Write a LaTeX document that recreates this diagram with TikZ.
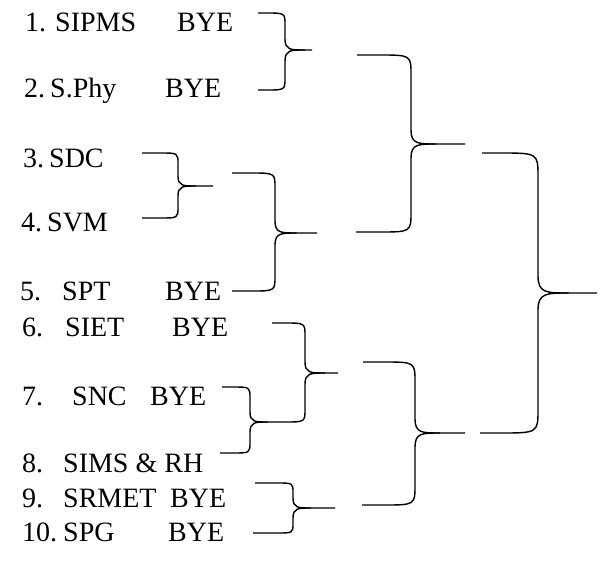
\documentclass[tikz,border=0pt]{standalone}
\usepackage{fontspec}
\setmainfont{Liberation Serif}
\usetikzlibrary{calc}
\tikzset{
  lbl/.style={anchor=west,inner sep=0pt,text height=18.5pt,text depth=0pt,font=\fontsize{28}{32}\selectfont},
  bline/.style={line width=1.4pt}
}
\begin{document}
\begin{tikzpicture}[x=1pt,y=-1pt]
\useasboundingbox (0,0) rectangle (604,563);
% teams
\node[lbl] (n1) at (25,22) {1.};  \node[lbl] (t1) at (55,22) {SIPMS};  \node[lbl] (y1) at (177,22) {BYE};
\node[lbl] (n2) at (24,88) {2.};  \node[lbl] (t2) at (50,88) {S.Phy};  \node[lbl] (y2) at (165,88) {BYE};
\node[lbl] (n3) at (23,158) {3.}; \node[lbl] (t3) at (49,158) {SDC};
\node[lbl] (n4) at (21,222) {4.}; \node[lbl] (t4) at (47,222) {SVM};
\node[lbl] (n5) at (20,291) {5.}; \node[lbl] (t5) at (62,291) {SPT};   \node[lbl] (y5) at (165,291) {BYE};
\node[lbl] (n6) at (22,327) {6.}; \node[lbl] (t6) at (65,327) {SIET};  \node[lbl] (y6) at (172,327) {BYE};
\node[lbl] (n7) at (22,396) {7.}; \node[lbl] (t7) at (72,396) {SNC};   \node[lbl] (y7) at (150,396) {BYE};
\node[lbl] (n8) at (22,463) {8.}; \node[lbl] (t8) at (63,463) {SIMS \& RH};
\node[lbl] (n9) at (22,498) {9.}; \node[lbl] (t9) at (63,498) {SRMET}; \node[lbl] (y9) at (170,498) {BYE};
\node[lbl] (n10) at (22,532) {10.}; \node[lbl] (t10) at (63,532) {SPG}; \node[lbl] (y10) at (168,532) {BYE};
% bracket ends: T top, B bottom, V bend at the tip, M tip
\coordinate (aT) at (258,13);  \coordinate (aB) at (258,90);  \coordinate (aV) at (285,50);  \coordinate (aM) at (312,50);
\coordinate (bT) at (142,153); \coordinate (bB) at (142,218); \coordinate (bV) at (178,186); \coordinate (bM) at (213,186);
\coordinate (cT) at (232,173); \coordinate (cB) at (232,291); \coordinate (cV) at (275,233); \coordinate (cM) at (317,233);
\coordinate (dT) at (357,55);  \coordinate (dB) at (356,232); \coordinate (dV) at (411,144); \coordinate (dM) at (465,144);
\coordinate (eT) at (272,323); \coordinate (eB) at (272,422); \coordinate (eV) at (305,373); \coordinate (eM) at (338,373);
\coordinate (fT) at (222,387); \coordinate (fB) at (220,453); \coordinate (fV) at (250,422); \coordinate (fM) at (eB);
\coordinate (gT) at (255,483); \coordinate (gB) at (253,533); \coordinate (gV) at (293,508); \coordinate (gM) at (335,508);
\coordinate (hT) at (363,362); \coordinate (hB) at (362,505); \coordinate (hV) at (415,433); \coordinate (hM) at (465,433);
\coordinate (iT) at (482,153); \coordinate (iB) at (480,433); \coordinate (iV) at (538,293); \coordinate (iM) at (597,293);
% r = top/bottom bend, s = bend into the tip
\foreach \b/\r/\s in {a/12/11,b/11/10,c/15/12,d/20/14,e/13/11,f/11/10,g/10/10,h/20/14,i/24/17}{
  \draw[bline] (\b T) -- ($(\b T -| \b V)+(-1.6*\r,0)$) .. controls (\b T -| \b V) .. ($(\b T -| \b V)+(0,\r)$)
    -- ($(\b V)+(0,-\s)$) .. controls (\b V) and ($(\b V)+(0.5*\s,0)$) .. ($(\b V)+(1.8*\s,0)$) -- (\b M);
  \draw[bline] (\b B) -- ($(\b B -| \b V)+(-1.6*\r,0)$) .. controls (\b B -| \b V) .. ($(\b B -| \b V)+(0,-\r)$)
    -- ($(\b V)+(0,\s)$) .. controls (\b V) and ($(\b V)+(0.5*\s,0)$) .. ($(\b V)+(1.8*\s,0)$);
}
\end{tikzpicture}
\end{document}
